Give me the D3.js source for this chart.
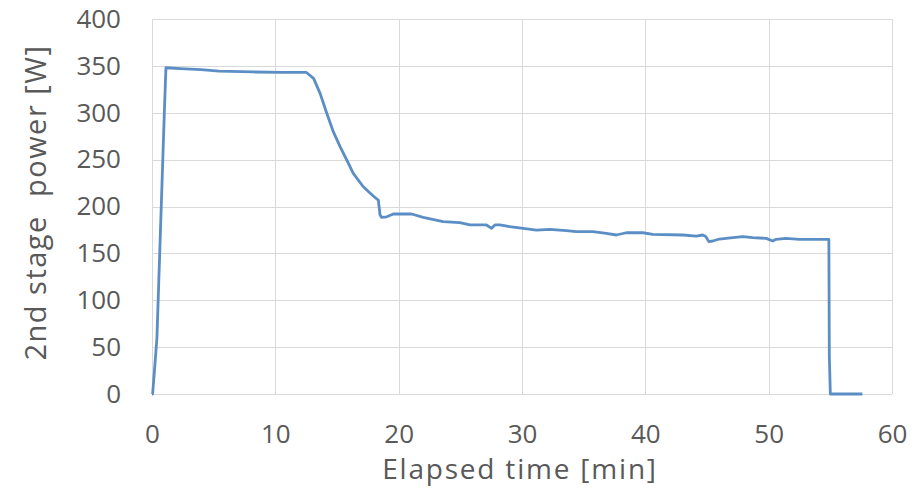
<!DOCTYPE html>
<html>
<head>
<meta charset="utf-8">
<script src="https://cdn.jsdelivr.net/npm/d3@7"></script>
<style>
  body { margin: 0; background: #fff; }
  svg text { font-family: "Open Sans", sans-serif; fill: #595959; }
</style>
</head>
<body>
<svg id="chart"></svg>
<script>
// 2nd stage power vs elapsed time, one trace

const W = 919, H = 489;
const MARGIN = { top: 19, right: 27, bottom: 95, left: 152 };
const PW = W - MARGIN.left - MARGIN.right;
const PH = H - MARGIN.top - MARGIN.bottom;

const xTicks = [0, 10, 20, 30, 40, 50, 60];
const yTicks = [0, 50, 100, 150, 200, 250, 300, 350, 400];

// elapsed time [min]
const timeMin = [
  0, 0.05, 0.2, 0.4, 0.7, 1.0, 1.13, 2.3, 4.0, 5.4, 8.2, 10.5, 12.5,
  12.55, 13.1, 13.63, 14.17, 14.7, 15.25, 15.79, 16.32, 17.13, 17.94, 18.35,
  18.49, 18.62, 19.03, 19.57, 21.05, 21.99, 23.6, 24.96, 25.77, 27.12, 27.53,
  27.8, 28.2, 29.0, 30.1, 31.17, 32.25, 33.6, 34.4, 35.75, 36.84, 37.65,
  38.46, 39.8, 40.6, 43.04, 44.13, 44.66, 44.9, 45.15, 45.47, 46.0, 47.1,
  47.9, 48.7, 49.8, 50.33, 50.6, 51.4, 52.5, 54.88, 54.92, 55.0, 57.6
];

// 2nd stage power [W]
const powerW = [
  0, 0, 25, 60, 180, 300, 348, 347, 346, 344.5, 343.5, 343, 343,
  342.7, 336.7, 320.7, 299.4, 279.8, 263.8, 249.6, 235.4, 221.1, 211.2, 206.9,
  190.9, 188.4, 189, 192, 192, 188.4, 183.8, 182.7, 180.3, 180.3, 176.7,
  180.3, 180.3, 178.5, 176.7, 174.9, 175.6, 174.2, 173.1, 173.1, 171.4, 169.6,
  172, 172, 170.3, 169.6, 168.5, 169.6, 168, 162.5, 163.2, 165.3, 166.7,
  167.8, 166.7, 166, 163.2, 165, 166, 165, 165, 40, 0, 0
];

const series = timeMin.map((t, i) => ({ t, p: powerW[i] }));

const svg = d3.select('#chart').attr('width', W).attr('height', H);
const g = svg.append('g').attr('transform', `translate(${MARGIN.left},${MARGIN.top})`);

const x = d3.scaleLinear().domain([0, 60]).range([0, PW]);
const y = d3.scaleLinear().domain([0, 400]).range([PH, 0]);

// gridlines
g.append('g')
  .selectAll('line.hgrid')
  .data(yTicks)
  .join('line')
  .attr('x1', 0).attr('x2', PW)
  .attr('y1', d => Math.round(y(d)) + 0.5).attr('y2', d => Math.round(y(d)) + 0.5)
  .attr('stroke', '#d9d9d9').attr('stroke-width', 1);

g.append('g')
  .selectAll('line.vgrid')
  .data(xTicks)
  .join('line')
  .attr('y1', 0).attr('y2', PH)
  .attr('x1', d => Math.round(x(d)) + 0.5).attr('x2', d => Math.round(x(d)) + 0.5)
  .attr('stroke', '#d9d9d9').attr('stroke-width', 1);

// axes (labels only, no domain / ticks)
const yAxis = g.append('g')
  .call(d3.axisLeft(y).tickValues(yTicks).tickSize(0).tickPadding(31));
yAxis.select('.domain').remove();
yAxis.selectAll('text')
  .attr('font-size', 26).attr('font-family', '"Open Sans", sans-serif').attr('fill', '#595959');

const xAxis = g.append('g')
  .attr('transform', `translate(0,${PH})`)
  .call(d3.axisBottom(x).tickValues(xTicks).tickSize(0).tickPadding(31));
xAxis.select('.domain').remove();
xAxis.selectAll('text')
  .attr('font-size', 26).attr('font-family', '"Open Sans", sans-serif').attr('fill', '#595959');

// data line
g.append('path')
  .datum(series)
  .attr('fill', 'none')
  .attr('stroke', '#5b8ec4')
  .attr('stroke-width', 2.8)
  .attr('stroke-linejoin', 'round')
  .attr('d', d3.line().x(d => x(d.t)).y(d => y(d.p)));

// axis titles
g.append('text')
  .attr('x', PW / 2 - 2)
  .attr('y', PH + 85)
  .attr('text-anchor', 'middle')
  .attr('font-size', 28)
  .attr('letter-spacing', 1.8)
  .text('Elapsed time [min]');

g.append('text')
  .attr('transform', 'rotate(-90)')
  .attr('x', -PH / 2 + 4)
  .attr('y', -106)
  .attr('text-anchor', 'middle')
  .attr('font-size', 29)
  .attr('letter-spacing', 1.5)
  .attr('xml:space', 'preserve')
  .style('white-space', 'pre')
  .text('2nd stage  power [W]');
</script>
</body>
</html>
